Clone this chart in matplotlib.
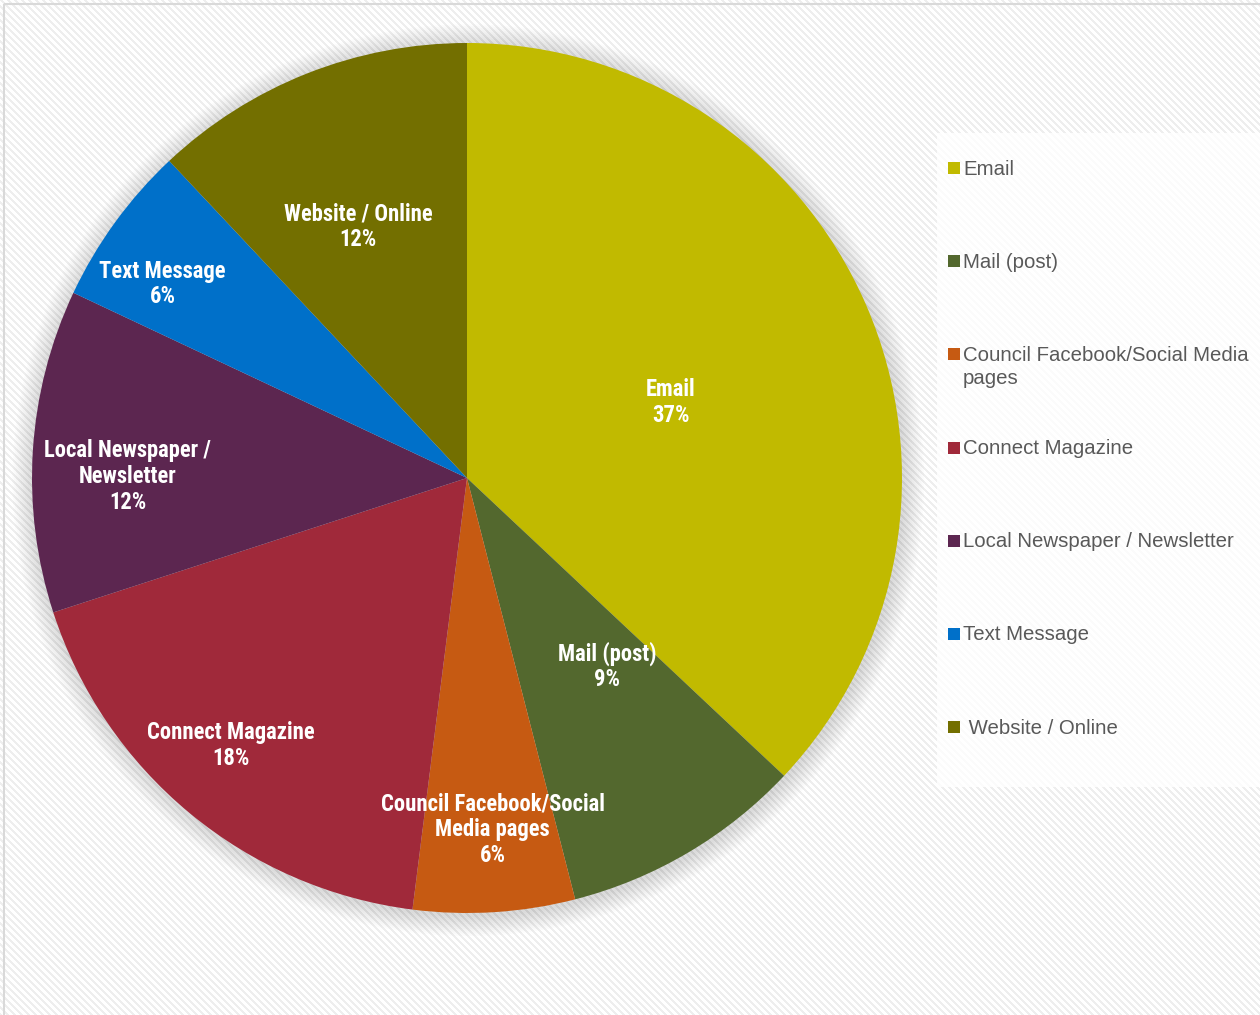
import numpy as np
import matplotlib
matplotlib.use("Agg")
import matplotlib.pyplot as plt
from matplotlib.patches import Rectangle, Circle
from matplotlib import font_manager

# ---- data -------------------------------------------------------------
categories = [
    "Email",
    "Mail (post)",
    "Council Facebook/Social Media pages",
    "Connect Magazine",
    "Local Newspaper / Newsletter",
    "Text Message",
    "Website / Online",
]
shares = [37, 9, 6, 18, 12, 6, 12]
slice_labels = [
    "Email",
    "Mail (post)",
    "Council Facebook/Social\nMedia pages",
    "Connect Magazine",
    "Local Newspaper /\nNewsletter",
    "Text Message",
    "Website / Online",
]
legend_labels = [
    "Email",
    "Mail (post)",
    "Council Facebook/Social Media\npages",
    "Connect Magazine",
    "Local Newspaper / Newsletter",
    "Text Message",
    " Website / Online",
]
colors = ["#C1BA00", "#53682E", "#C65A12", "#A0293A", "#5C2650", "#0070C9", "#736F00"]

# label placement: radial fraction and angular nudge (degrees) per slice
label_r = [0.50, 0.54, 0.81, 0.82, 0.78, 0.83, 0.63]
label_dtheta = [-3.1, 6.1, 0.6, -1.9, 3.3, 3.5, 1.8]

# ---- fonts --------------------------------------------------------------
available = {f.name for f in font_manager.fontManager.ttflist}


def pick(*names):
    for n in names:
        if n in available:
            return n
    return "DejaVu Sans"


narrow = pick("Roboto Condensed", "Fira Sans Condensed", "Archivo Narrow", "Liberation Sans Narrow")
regular = pick("Liberation Sans", "Arimo", "DejaVu Sans")

W, H = 1260, 1015
fig = plt.figure(figsize=(W / 100, H / 100), dpi=100)

# ---- textured background --------------------------------------------------
bg = fig.add_axes([0, 0, 1, 1])
yy, xx = np.mgrid[0:H, 0:W]
stripe = ((xx - yy) % 7) < 3
tex = np.where(stripe, 0.935, 1.0)
img = np.dstack([tex, tex, tex])
bg.imshow(img, extent=(0, W, H, 0), interpolation="nearest", aspect="auto")
bg.set_xlim(0, W)
bg.set_ylim(H, 0)
bg.axis("off")
# frame
bg.add_patch(Rectangle((4, 4), W + 10, H + 10, fill=False, ec="#D9D9D9", lw=1.5))
# legend panel
bg.add_patch(Rectangle((937, 133), 330, 654, fc="white", ec="none", alpha=0.8))

# ---- pie -------------------------------------------------------------------
cx, cy, R = 467, 478, 435
ax = fig.add_axes([(cx - R) / W, (H - cy - R) / H, 2 * R / W, 2 * R / H])

# soft drop shadow
for k in range(12):
    ax.add_patch(Circle((0.003, -0.005), 1.0 + 0.004 * (k + 1), fc="black",
                        ec="none", alpha=0.013, clip_on=False, zorder=0))

wedges, _ = ax.pie(shares, colors=colors, startangle=90, counterclock=False,
                   radius=1.0, wedgeprops=dict(linewidth=0))
ax.set_xlim(-1, 1)
ax.set_ylim(-1, 1)
ax.set_aspect("auto")
ax.axis("off")
for w in wedges:
    w.set_zorder(2)

for w, lab, val, rf, dt in zip(wedges, slice_labels, shares, label_r, label_dtheta):
    mid = np.deg2rad((w.theta1 + w.theta2) / 2 + dt)
    ax.text(rf * np.cos(mid), rf * np.sin(mid), f"{lab}\n{val}%",
            ha="center", va="center", color="white", fontsize=16.3,
            fontweight=600, family=narrow, linespacing=1.16, zorder=3)

# ---- legend ------------------------------------------------------------------
leg_x, leg_y0, leg_step = 948, 168, 93.2
for i, (lab, col) in enumerate(zip(legend_labels, colors)):
    y = leg_y0 + i * leg_step
    bg.add_patch(Rectangle((leg_x, y - 6), 12, 12, fc=col, ec="none"))
    bg.text(leg_x + 15, y - 8.5, lab, ha="left", va="top", color="#595959",
            fontsize=14.7, family=regular, linespacing=1.3)

fig.savefig("out.png", dpi=100)
